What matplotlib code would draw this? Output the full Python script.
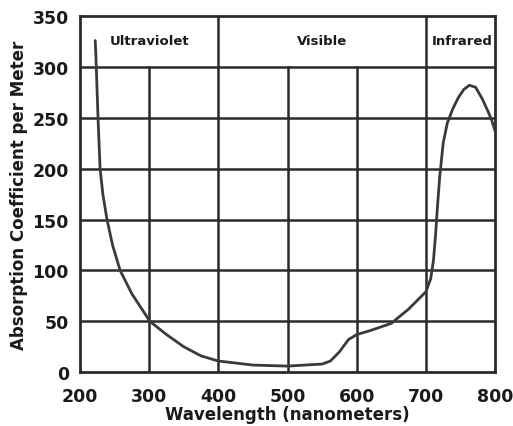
import matplotlib
matplotlib.use("Agg")
import matplotlib.pyplot as plt

# absorption curve
wavelength = [222, 223, 224, 226, 229, 233, 239, 247, 258, 275, 301, 325, 350,
              375, 400, 450, 500, 550, 562, 575, 588, 600, 620, 650, 675, 700,
              707, 711, 714, 717, 720, 725, 731, 739, 747, 755, 763, 772, 782,
              790, 795, 800]
absorption = [326, 310, 290, 250, 200, 175, 150, 125, 100, 77, 50, 37, 25,
              16, 11, 7, 6, 8, 11, 20, 32, 37, 41, 48, 62, 79,
              92, 110, 135, 165, 192, 225, 245, 259, 270, 278, 282, 280, 268,
              256, 248, 237]

x_ticks = [200, 300, 400, 500, 600, 700, 800]
y_ticks = [0, 50, 100, 150, 200, 250, 300, 350]
bands = ["Ultraviolet", "Visible", "Infrared"]
band_edges = [200, 400, 700, 800]

ink = "#2b2b2b"

fig = plt.figure(figsize=(5.13, 4.27), dpi=100)
ax = fig.add_axes([0.156, 0.126, 0.809, 0.834])
ax.set_xlim(200, 800)
ax.set_ylim(0, 350)

# grid: horizontals across the full width, verticals stop under the band row
for y in y_ticks[1:-1]:
    ax.plot([200, 800], [y, y], color=ink, lw=1.8, zorder=1)
for x in x_ticks[1:-1]:
    top = 350 if x in band_edges else 300
    ax.plot([x, x], [0, top], color=ink, lw=1.8, zorder=1)

for i, name in enumerate(bands):
    mid = (band_edges[i] + band_edges[i + 1]) / 2
    if name == "Infrared":
        mid = 753
    ax.text(mid, 326, name, ha="center", va="center", fontsize=9.5,
            fontweight="bold", color="#1a1a1a")

ax.plot(wavelength, absorption, color="#3a3a3a", lw=2.0, zorder=3,
        solid_capstyle="round", solid_joinstyle="round")

for s in ax.spines.values():
    s.set_linewidth(2.0)
    s.set_color(ink)

ax.set_xticks(x_ticks)
ax.set_yticks(y_ticks)
ax.tick_params(axis="y", length=0, pad=8, labelsize=12.5)
ax.tick_params(axis="x", length=0, pad=11, labelsize=12.5)
for lab in ax.get_xticklabels() + ax.get_yticklabels():
    lab.set_fontweight("bold")
    lab.set_color("#1a1a1a")

ax.set_xlabel("Wavelength (nanometers)", fontsize=12, fontweight="bold",
              color="#1a1a1a", labelpad=0)
ax.set_ylabel("Absorption Coefficient per Meter", fontsize=12,
              fontweight="bold", color="#1a1a1a", labelpad=3)

fig.savefig("out.png", dpi=100, facecolor="white")
